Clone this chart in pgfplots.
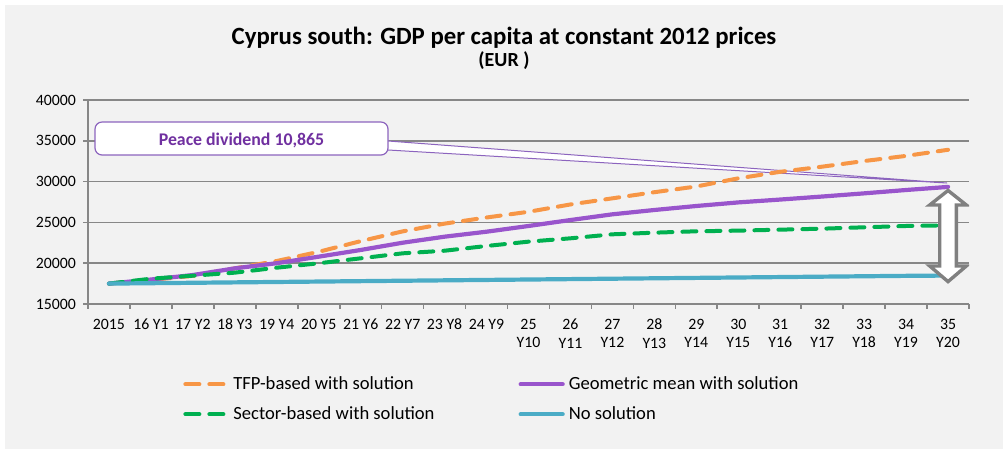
\documentclass[border=0pt]{standalone}
\usepackage{fontspec}
\setmainfont{Carlito}
\usepackage{pgfplots}
\pgfplotsset{compat=1.18}
\definecolor{bg}{HTML}{F2F2F2}
\definecolor{gridgray}{HTML}{878787}
\definecolor{tfporange}{HTML}{F79646}
\definecolor{geopurple}{HTML}{9955CC}
\definecolor{secgreen}{HTML}{00B050}
\definecolor{noblue}{HTML}{4BACC6}
\definecolor{calltext}{HTML}{7030A0}
\definecolor{callborder}{HTML}{8C64BE}
\definecolor{arrowgray}{HTML}{808080}

\pgfplotstableread{
x tfp geo sec none
0 17500 17500 17500 17500
1 17950 18000 18100 17550
2 18450 18550 18470 17600
3 19370 19370 18840 17650
4 20270 20000 19450 17700
5 21400 20800 19990 17750
6 22700 21620 20600 17800
7 23900 22510 21210 17850
8 24850 23250 21530 17900
9 25600 23860 22110 17950
10 26300 24560 22640 18000
11 27200 25290 23050 18050
12 27950 25990 23540 18100
13 28700 26520 23740 18150
14 29400 27010 23910 18200
15 30400 27450 23990 18250
16 31200 27800 24110 18300
17 31830 28170 24230 18350
18 32520 28560 24400 18400
19 33150 28970 24560 18450
20 33900 29350 24640 18485
}\datatable

\begin{document}
\begin{tikzpicture}[x=1pt,y=1pt]
\fill[white] (0,0) rectangle (502.5,224.5);
\fill[bg] (2.5,0) rectangle (501.5,222);
\node[anchor=base, inner sep=0pt, font=\fontsize{12.4}{14}\selectfont\bfseries] at (252,202) {Cyprus south: GDP per capita at constant 2012 prices};
\node[anchor=base, inner sep=0pt, font=\fontsize{10}{12}\selectfont\bfseries] at (252,191.25) {(EUR )};
\begin{axis}[
  at={(44pt,72.5pt)}, anchor=south west,
  scale only axis, width=440.5pt, height=102pt,
  xmin=-0.5, xmax=20.5, ymin=15000, ymax=40000,
  axis lines*=left,
  axis line style={draw=gridgray, line width=0.8pt},
  ytick={15000,20000,...,40000},
  ymajorgrids, major grid style={draw=gridgray, line width=0.8pt},
  scaled y ticks=false,
  /pgf/number format/assume math mode=true,
  yticklabel style={/pgf/number format/1000 sep={}},
  xtick={0,...,20},
  xticklabels={2015,16 Y1,17 Y2,18 Y3,19 Y4,20 Y5,21 Y6,22 Y7,23 Y8,24 Y9,{25\\Y10},{26\\Y11},{27\\Y12},{28\\Y13},{29\\Y14},{30\\Y15},{31\\Y16},{32\\Y17},{33\\Y18},{34\\Y19},{35\\Y20}},
  minor xtick={-0.5,0.5,...,20.5},
  tick align=outside,
  major tick length=2.5pt, minor tick length=2.5pt,
  major x tick style={draw=none},
  minor x tick style={draw=gridgray, line width=0.8pt},
  major y tick style={draw=gridgray, line width=0.8pt},
  tick label style={font=\fontsize{7.9}{9.2}\selectfont},
  xticklabel style={align=center, yshift=-1.5pt},
  legend columns=2,
  legend style={at={(0.1078,-0.333)}, anchor=north west, draw=none, fill=none,
    font=\fontsize{9.3}{11}\selectfont, inner sep=0pt, row sep=3pt,
    nodes={inner sep=2pt},
    /tikz/every even column/.append style={column sep=40pt}},
  legend cell align=left,
  legend image code/.code={\draw[#1] (0pt,0pt) -- (21pt,0pt);},
]
% callout
\draw[callborder, fill=white, line width=0.5pt] (axis cs:6.651,34975) -- (axis cs:19.976,29828) -- (axis cs:6.651,33873);
\draw[callborder, fill=white, rounded corners=3.5pt, line width=0.6pt] (axis cs:-0.333,37300) rectangle (axis cs:6.651,33260);
\node[text=calltext, font=\fontsize{8.9}{10}\selectfont\bfseries] at (axis cs:3.16,35000) {Peace dividend 10,865};

\addplot[tfporange, line width=2pt, line cap=round, dash pattern=on 7pt off 5pt] table[x=x,y=tfp] {\datatable};
\addlegendentry{TFP-based with solution}
\addplot[geopurple, line width=2.1pt, line cap=round] table[x=x,y=geo] {\datatable};
\addlegendentry{Geometric mean with solution}
\addplot[secgreen, line width=2pt, line cap=round, dash pattern=on 7pt off 5pt] table[x=x,y=sec] {\datatable};
\addlegendentry{Sector-based with solution}
\addplot[noblue, line width=2.1pt, line cap=round] table[x=x,y=none] {\datatable};
\addlegendentry{No solution}

% double arrow
\draw[arrowgray, fill=white, line width=1.7pt, line join=miter]
  (axis cs:20,28909)
  -- ([xshift=9.15pt]axis cs:20,27132)
  -- ([xshift=4.15pt]axis cs:20,27132)
  -- ([xshift=4.15pt]axis cs:20,19657)
  -- ([xshift=9.15pt]axis cs:20,19657)
  -- (axis cs:20,17745)
  -- ([xshift=-9.15pt]axis cs:20,19657)
  -- ([xshift=-4.15pt]axis cs:20,19657)
  -- ([xshift=-4.15pt]axis cs:20,27132)
  -- ([xshift=-9.15pt]axis cs:20,27132)
  -- cycle;
\end{axis}
\pgfresetboundingbox
\path (0,0) rectangle (502.5,224.5);
\end{tikzpicture}
\end{document}
